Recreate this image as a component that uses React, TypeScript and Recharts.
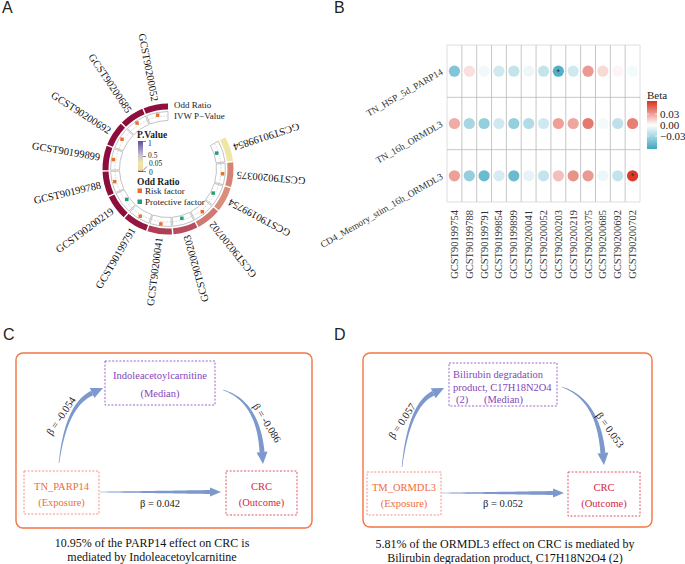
import React from 'react';
import { PieChart, Pie, Cell, ScatterChart, Scatter, XAxis, YAxis, ReferenceLine } from 'recharts';

const SERIF = '"Liberation Serif", "Times New Roman", Times, serif';
const SANS = '"Liberation Sans", Arial, Helvetica, sans-serif';

// ---- panel A: circular plot, clockwise starting after the gap
const circosIds = ['GCST90199854', 'GCST90200375', 'GCST90199754', 'GCST90200702', 'GCST90200203', 'GCST90200041', 'GCST90199791', 'GCST90200219', 'GCST90199788', 'GCST90199899', 'GCST90200692', 'GCST90200685', 'GCST90200052'];
const circosPValues = [0.3, 0.033, 0.036, 0.03, 0.018, 0.015, 0.004, 0.001, 0.001, 0.001, 0.001, 0.001, 0.002];
const circosOddsRatios = [0.97, 1.03, 0.97, 1.03, 0.97, 1.04, 1.03, 0.97, 1.03, 1.04, 1.03, 1.04, 1.03];
const pValueTicks = ['1', '0.5', '0.05', '0'];

// ---- panel B: dot heatmap
const exposureNames = ['TN_HSP_5d_PARP14', 'TN_16h_ORMDL3', 'CD4_Memory_stim_16h_ORMDL3'];
const outcomeIds = ['GCST90199754', 'GCST90199788', 'GCST90199791', 'GCST90199854', 'GCST90199899', 'GCST90200041', 'GCST90200052', 'GCST90200203', 'GCST90200219', 'GCST90200375', 'GCST90200685', 'GCST90200692', 'GCST90200702'];
const betaPARP14 = [-0.042, 0.01, -0.005, -0.016, -0.02, -0.006, -0.02, -0.058, -0.016, 0.032, 0.012, 0.003, -0.004];
const betaTN16h = [0.026, -0.03, -0.036, -0.016, -0.036, -0.026, -0.016, 0.03, 0.028, 0.042, -0.004, -0.022, 0.04];
const betaCD4Mem = [0.03, -0.036, -0.05, -0.014, -0.05, -0.008, -0.02, 0.02, 0.034, 0.032, -0.006, -0.02, 0.062];
const starredCells = [['TN_HSP_5d_PARP14', 'GCST90200203'], ['CD4_Memory_stim_16h_ORMDL3', 'GCST90200702']];
const betaTicks = [0.03, 0, -0.03];

// ---- panels C and D: mediation
const betasC = [-0.054, -0.086, 0.042]; // exposure->mediator, mediator->outcome, direct
const betasD = [0.057, 0.053, 0.052];
const captionC = ['10.95% of the PARP14 effect on CRC is', 'mediated by Indoleacetoylcarnitine'];
const captionD = ['5.81% of the ORMDL3 effect on CRC is mediated by', 'Bilirubin degradation product, C17H18N2O4 (2)'];

const heatRows = [betaPARP14, betaTN16h, betaCD4Mem];
const heatData = heatRows.flatMap((row, r) =>
  row.map((beta, c) => ({
    col: c + 1,
    row: r + 1,
    beta,
    sig: starredCells.some(([e, o]) => e === exposureNames[r] && o === outcomeIds[c]),
  }))
);
const circosData = circosIds.map((id, i) => ({ id, weight: 1, p: circosPValues[i], or: circosOddsRatios[i] }));

function hexRgb(h: string) {
  const n = parseInt(h.slice(1), 16);
  return [(n >> 16) & 255, (n >> 8) & 255, n & 255];
}
function mix(a: string, b: string, t: number) {
  const A = hexRgb(a), B = hexRgb(b);
  const c = A.map((v, i) => Math.round(v + (B[i] - v) * t));
  return `rgb(${c[0]},${c[1]},${c[2]})`;
}

const pStops: [number, string][] = [[0, '#8b0b3b'], [0.008, '#9a1e45'], [0.02, '#bd5664'], [0.035, '#d98a78'], [0.06, '#f0dca8'], [0.3, '#efe6a4'], [0.55, '#c8c0d4'], [1, '#5b4d9e']];
function pColor(p: number) {
  for (let i = 1; i < pStops.length; i++) {
    if (p <= pStops[i][0]) {
      const [p0, c0] = pStops[i - 1];
      const [p1, c1] = pStops[i];
      return mix(c0, c1, (p - p0) / (p1 - p0));
    }
  }
  return pStops[pStops.length - 1][1];
}

const BETA_MAX = 0.065;
function betaColor(b: number) {
  const t = Math.min(1, Math.abs(b) / BETA_MAX);
  return mix('#ffffff', b >= 0 ? '#d7301f' : '#3fa6c2', t);
}

const RISK = '#e8712c';
const PROTECT = '#1fa07a';
const RAD = Math.PI / 180;

function IdLabel(props: any) {
  const { cx, cy, midAngle, outerRadius, index } = props;
  const r = outerRadius + 3.5;
  const x = cx + r * Math.cos(midAngle * RAD);
  const y = cy - r * Math.sin(midAngle * RAD);
  return (
    <text x={x} y={y} transform={`rotate(${180 - midAngle} ${x} ${y})`} textAnchor="end" dominantBaseline="central"
      fontFamily={SERIF} fontSize={10.5} fill="#111">
      {circosIds[index]}
    </text>
  );
}

function TrackMark(props: any) {
  const { cx, cy, midAngle, innerRadius, outerRadius, startAngle, endAngle, index } = props;
  const rm = (innerRadius + outerRadius) / 2;
  const a1 = Math.max(startAngle, endAngle) - 0.6;
  const a2 = Math.min(startAngle, endAngle) + 0.6;
  const pt = (r: number, a: number) => [cx + r * Math.cos(a * RAD), cy - r * Math.sin(a * RAD)];
  const [x1, y1] = pt(rm, a1);
  const [x2, y2] = pt(rm, a2);
  const or = circosOddsRatios[index];
  const rp = Math.max(innerRadius + 2, Math.min(outerRadius - 2, rm + (or - 1) * 60));
  const [px, py] = pt(rp, midAngle);
  return (
    <g>
      <path d={`M${x1},${y1} A${rm},${rm} 0 0 1 ${x2},${y2}`} fill="none" stroke="#a5a5a5" strokeWidth={0.5} strokeDasharray="1.5 1.5" />
      <rect x={px - 1.75} y={py - 1.75} width={3.5} height={3.5} fill={or >= 1 ? RISK : PROTECT} />
    </g>
  );
}

function XTick(props: any) {
  const { x, y, payload } = props;
  const yy = y + 1;
  return (
    <text x={x} y={yy} transform={`rotate(-90 ${x} ${yy})`} textAnchor="end" dominantBaseline="central"
      fontFamily={SERIF} fontSize={10.5} fill="#333">
      {outcomeIds[payload.value - 1]}
    </text>
  );
}

function YTick(props: any) {
  const { x, y, payload } = props;
  return (
    <text x={x} y={y} transform={`rotate(-30 ${x} ${y})`} textAnchor="end" dominantBaseline="central"
      fontFamily={SERIF} fontSize={9.5} fill="#333">
      {exposureNames[payload.value - 1]}
    </text>
  );
}

function HeatDot(props: any) {
  const { cx, cy, payload } = props;
  return (
    <g>
      <circle cx={cx} cy={cy} r={5.6} fill={betaColor(payload.beta)} />
      {payload.sig && (
        <text x={cx} y={cy + 3.6} textAnchor="middle" fontSize={9} fontFamily={SANS} fill="#333">*</text>
      )}
    </g>
  );
}

type Pt = [number, number];
function arrowPaths(p0: Pt, c: Pt, p1: Pt, w0: number, w1: number, headLen: number, headW: number) {
  const dx = p1[0] - c[0], dy = p1[1] - c[1];
  const L = Math.hypot(dx, dy);
  const ux = dx / L, uy = dy / L;
  const e: Pt = [p1[0] - ux * headLen, p1[1] - uy * headLen];
  const left: string[] = [], right: string[] = [];
  const N = 24;
  for (let i = 0; i <= N; i++) {
    const t = i / N;
    const x = (1 - t) * (1 - t) * p0[0] + 2 * (1 - t) * t * c[0] + t * t * e[0];
    const y = (1 - t) * (1 - t) * p0[1] + 2 * (1 - t) * t * c[1] + t * t * e[1];
    let tx = 2 * (1 - t) * (c[0] - p0[0]) + 2 * t * (e[0] - c[0]);
    let ty = 2 * (1 - t) * (c[1] - p0[1]) + 2 * t * (e[1] - c[1]);
    const tl = Math.hypot(tx, ty) || 1;
    tx /= tl; ty /= tl;
    const w = (w0 + (w1 - w0) * t) / 2;
    left.push(`${x - ty * w},${y + tx * w}`);
    right.push(`${x + ty * w},${y - tx * w}`);
  }
  const shaft = `M${left.join('L')}L${right.reverse().join('L')}Z`;
  const h = headW / 2;
  const head = `M${e[0] - uy * h},${e[1] + ux * h}L${p1[0]},${p1[1]}L${e[0] + uy * h},${e[1] - ux * h}Z`;
  return { shaft, head };
}

const ARROW = '#7d98cc';
const fmtBeta = (v: number) => `β = ${v.toFixed(3)}`;

function Arrow({ pts, w1, headLen, headW }: { pts: Pt[]; w1: number; headLen: number; headW: number }) {
  const { shaft, head } = arrowPaths(pts[0], pts[1], pts[2], 0.6, w1, headLen, headW);
  return (
    <g fill={ARROW}>
      <path d={shaft} />
      <path d={head} />
    </g>
  );
}

function Mediation({ L, betas, exposure, mediator, caption }: any) {
  const t = { fontFamily: SERIF, fontSize: 10.5 };
  const [ex, ey, ew, eh] = L.exp;
  const [ox, oy, ow, oh] = L.out;
  const [mx, my, mw, mh] = L.med;
  return (
    <g>
      <rect x={L.frame[0]} y={L.frame[1]} width={L.frame[2]} height={L.frame[3]} rx={7} fill="none" stroke="#f27545" strokeWidth={1.4} />
      <rect x={mx} y={my} width={mw} height={mh} fill="none" stroke="#9b63cc" strokeWidth={1} strokeDasharray="2 1.6" />
      <rect x={ex} y={ey} width={ew} height={eh} fill="none" stroke="#f4907f" strokeWidth={1} strokeDasharray="2 1.6" />
      <rect x={ox} y={oy} width={ow} height={oh} fill="none" stroke="#e0566a" strokeWidth={1} strokeDasharray="2 1.6" />
      {mediator.map((m: any, i: number) => (
        <text key={i} x={m[1]} y={m[2]} textAnchor={m[3]} dominantBaseline="central" fill="#8445b8" {...t}>{m[0]}</text>
      ))}
      <text x={ex + ew / 2} y={ey + 15} textAnchor="middle" dominantBaseline="central" fill="#f26b3b" {...t}>{exposure}</text>
      <text x={ex + ew / 2} y={ey + 31} textAnchor="middle" dominantBaseline="central" fill="#f26b3b" {...t}>(Exposure)</text>
      <text x={ox + ow / 2} y={oy + 15} textAnchor="middle" dominantBaseline="central" fill="#d3283f" {...t}>CRC</text>
      <text x={ox + ow / 2} y={oy + 31} textAnchor="middle" dominantBaseline="central" fill="#d3283f" {...t}>(Outcome)</text>
      <Arrow pts={L.a1} w1={5} headLen={12} headW={11} />
      <Arrow pts={L.a2} w1={5} headLen={12} headW={11} />
      <Arrow pts={L.a3} w1={4} headLen={11} headW={9} />
      {[L.l1, L.l2, L.l3].map((l: number[], i: number) => (
        <text key={i} x={l[0]} y={l[1]} transform={`rotate(${l[2]} ${l[0]} ${l[1]})`} textAnchor="middle" dominantBaseline="central" fill="#222" {...t}>
          {fmtBeta(betas[i])}
        </text>
      ))}
      {caption.map((c: string, i: number) => (
        <text key={i} x={L.cap[0]} y={L.cap[1] + i * 14} textAnchor="middle" dominantBaseline="central" fontFamily={SERIF} fontSize={12} fill="#111">{c}</text>
      ))}
    </g>
  );
}

const layoutC = {
  frame: [16, 353, 296, 175],
  med: [105, 361, 110, 44],
  exp: [24, 471, 75, 43],
  out: [226, 471, 71, 44],
  a1: [[59, 463], [66, 405], [103, 388]],
  a2: [[223, 390], [258, 401], [263, 464]],
  a3: [[100, 492], [160, 492], [221, 492]],
  l1: [61, 416, -56],
  l2: [267, 423, 58],
  l3: [160, 503, 0],
  cap: [152, 543],
};
const layoutD = {
  frame: [363, 353, 289, 174],
  med: [449, 363, 108, 43],
  exp: [367, 472, 74, 43],
  out: [568, 472, 72, 44],
  a1: [[402, 467], [409, 405], [444, 388]],
  a2: [[562, 387], [598, 399], [604, 465]],
  a3: [[442, 493], [502, 493], [564, 493]],
  l1: [402, 421, -56],
  l2: [610, 430, 55],
  l3: [503, 503, 0],
  cap: [505, 544],
};

const betaLegendY = (v: number) => 101 + ((BETA_MAX - v) / (2 * BETA_MAX)) * 48;

export default function App() {
  const colTicks = outcomeIds.map((_, i) => i + 1);
  const rowTicks = exposureNames.map((_, i) => i + 1);
  const colBounds = [0, ...colTicks].map((v) => v + 0.5);
  const rowBounds = [0, ...rowTicks].map((v) => v + 0.5);
  return (
    <div style={{ position: 'absolute', left: 0, top: 0, width: 685, height: 564, background: '#fff', overflow: 'hidden' }}>
      <div style={{ position: 'absolute', left: 0, top: 0 }}>
        <PieChart width={340} height={320} margin={{ top: 0, right: 0, bottom: 0, left: 0 }}>
          <Pie data={circosData} dataKey="weight" cx={168} cy={169} innerRadius={59.5} outerRadius={65.5}
            startAngle={29} endAngle={-270} paddingAngle={1.3} stroke="none" isAnimationActive={false}
            label={IdLabel} labelLine={false}>
            {circosData.map((d, i) => <Cell key={i} fill={pColor(d.p)} />)}
          </Pie>
          <Pie data={circosData} dataKey="weight" cx={168} cy={169} innerRadius={48.5} outerRadius={57.5}
            startAngle={29} endAngle={-270} paddingAngle={1.3} fill="#fff" stroke="#9b9b9b" strokeWidth={0.6}
            isAnimationActive={false} label={TrackMark} labelLine={false} />
        </PieChart>
      </div>

      <div style={{ position: 'absolute', left: 320, top: 0 }}>
        <ScatterChart width={365} height={290} margin={{ top: 45, right: 45, bottom: 0, left: 0 }}>
          <XAxis type="number" dataKey="col" domain={[0.5, 13.5]} ticks={colTicks} interval={0} tickLine={false}
            axisLine={false} tickSize={0} tickMargin={7} height={88} tick={XTick} />
          <YAxis type="number" dataKey="row" domain={[0.5, 3.5]} ticks={rowTicks} interval={0} reversed tickLine={false}
            axisLine={false} tickSize={0} tickMargin={5} width={127} tick={YTick} />
          {colBounds.map((b, i) => (
            <ReferenceLine key={`v${i}`} x={b} stroke={i === 0 || i === colBounds.length - 1 ? '#d6d6d6' : '#b8b8b8'} strokeWidth={0.8} />
          ))}
          {rowBounds.map((b, i) => (
            <ReferenceLine key={`h${i}`} y={b} stroke={i === 0 || i === rowBounds.length - 1 ? '#d6d6d6' : '#b8b8b8'} strokeWidth={0.8} />
          ))}
          <Scatter data={heatData} shape={HeatDot} isAnimationActive={false} />
        </ScatterChart>
      </div>

      <svg width={685} height={564} style={{ position: 'absolute', left: 0, top: 0, pointerEvents: 'none' }}>
        <defs>
          <linearGradient id="pgrad" x1="0" y1="1" x2="0" y2="0">
            {pStops.map(([p, c], i) => <stop key={i} offset={p} stopColor={c} />)}
          </linearGradient>
          <linearGradient id="bgrad" x1="0" y1="0" x2="0" y2="1">
            {[1, 0.75, 0.5, 0.25, 0, -0.25, -0.5, -0.75, -1].map((f, i) => (
              <stop key={i} offset={i / 8} stopColor={betaColor(f * BETA_MAX)} />
            ))}
          </linearGradient>
        </defs>

        <g fontFamily={SANS} fontSize={16} fill="#222">
          <text x={2} y={13}>A</text>
          <text x={334} y={13}>B</text>
          <text x={3} y={340}>C</text>
          <text x={334} y={340}>D</text>
        </g>

        {/* panel A annotations and legend */}
        <g fontFamily={SERIF} fontSize={9} fill="#222">
          <text x={174} y={105} dominantBaseline="central">Odd Ratio</text>
          <text x={174} y={116} dominantBaseline="central">IVW P−Value</text>
          <text x={137} y={134.5} dominantBaseline="central" fontWeight="bold" fontSize={9.5}>P.Value</text>
          <rect x={138} y={141} width={5} height={31} fill="url(#pgrad)" />
          <line x1={143} y1={141.5} x2={146} y2={141.5} stroke="#333" strokeWidth={0.6} />
          <line x1={143} y1={156.5} x2={146} y2={156.5} stroke="#333" strokeWidth={0.6} />
          <line x1={143} y1={170.5} x2={147} y2={166.5} stroke="#333" strokeWidth={0.6} />
          <line x1={143} y1={171.5} x2={146} y2={171.5} stroke="#333" strokeWidth={0.6} />
          <g fontSize={7.5}>
            <text x={148} y={143} dominantBaseline="central">{pValueTicks[0]}</text>
            <text x={148} y={155.5} dominantBaseline="central">{pValueTicks[1]}</text>
            <text x={149} y={163.5} dominantBaseline="central">{pValueTicks[2]}</text>
            <text x={149} y={172.5} dominantBaseline="central">{pValueTicks[3]}</text>
          </g>
          <text x={137} y={182} dominantBaseline="central" fontWeight="bold" fontSize={9.5}>Odd Ratio</text>
          <rect x={137.5} y={188.5} width={4.5} height={4.5} fill={RISK} />
          <text x={145} y={191} dominantBaseline="central">Risk factor</text>
          <rect x={137.5} y={199.5} width={4.5} height={4.5} fill={PROTECT} />
          <text x={145} y={202} dominantBaseline="central">Protective factor</text>
        </g>

        {/* panel B legend */}
        <g fontFamily={SERIF} fontSize={11} fill="#222">
          <text x={647} y={95} dominantBaseline="central">Beta</text>
          <rect x={647} y={101} width={10} height={48} fill="url(#bgrad)" />
          {betaTicks.map((v, i) => (
            <g key={i}>
              <line x1={647} x2={649} y1={betaLegendY(v)} y2={betaLegendY(v)} stroke="#fff" strokeWidth={0.7} />
              <line x1={655} x2={657} y1={betaLegendY(v)} y2={betaLegendY(v)} stroke="#fff" strokeWidth={0.7} />
              <text x={660} y={betaLegendY(v)} dominantBaseline="central">{v === 0 ? '0.00' : v < 0 ? `−${Math.abs(v).toFixed(2)}` : v.toFixed(2)}</text>
            </g>
          ))}
        </g>

        <Mediation L={layoutC} betas={betasC} exposure="TN_PARP14"
          mediator={[['Indoleacetoylcarnitine', 160, 375, 'middle'], ['(Median)', 160, 393, 'middle']]}
          caption={captionC} />
        <Mediation L={layoutD} betas={betasD} exposure="TM_ORMDL3"
          mediator={[['Bilirubin degradation', 453, 374, 'start'], ['product, C17H18N2O4', 453, 387, 'start'], ['(2)', 456, 399, 'start'], ['(Median)', 484, 399, 'start']]}
          caption={captionD} />
      </svg>
    </div>
  );
}
